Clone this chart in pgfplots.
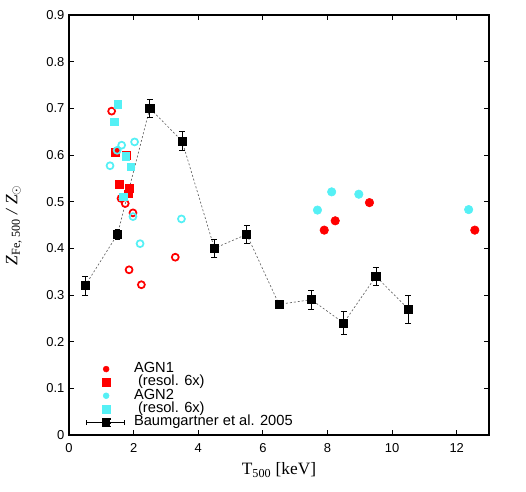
\documentclass[border=0pt]{standalone}
\usepackage{pgfplots}
\pgfplotsset{compat=1.18}
\usepackage{fontspec}
\setmainfont{Liberation Sans}
\newfontfamily\seriffont{Liberation Serif}
\definecolor{agnred}{RGB}{255,0,0}
\definecolor{agncyan}{RGB}{85,240,245}

\pgfplotsset{
  markleg/.style={legend image code/.code={\path[draw=none, fill=none] (0pt,-3pt) rectangle (35.7pt,3pt); \draw[##1] plot coordinates {(14.8pt,0pt)};}},
  circleg/.style={legend image code/.code={\path[draw=none, fill=none] (0pt,-3pt) rectangle (35.7pt,3pt); \draw[##1, mark size=2.2pt] plot coordinates {(14.8pt,0pt)};}},
  baumleg/.style={legend image code/.code={\path[draw=none, fill=none] (0pt,-3pt) rectangle (35.7pt,3pt);
    \draw[black, solid, line width=0.6pt] (0pt,0pt) -- (28.7pt,0pt) (0pt,-2pt) -- (0pt,2pt) (28.7pt,-2pt) -- (28.7pt,2pt);
    \fill[black] (11.7pt,-3.1pt) rectangle (17.9pt,3.1pt);}},
}

\pgfplotstableread{
x y ey
0.5 0.32 0.02
1.5 0.43 0.01
2.5 0.70 0.02
3.5 0.63 0.02
4.5 0.40 0.02
5.5 0.43 0.02
6.5 0.28 0.005
7.5 0.29 0.02
8.5 0.24 0.025
9.5 0.34 0.02
10.5 0.27 0.03
}\baumtable

\begin{document}
\begin{tikzpicture}
\begin{axis}[
  width=315pt, height=315pt, scale only axis,
  xmin=0, xmax=13, ymin=0, ymax=0.9,
  xtick={0,2,4,6,8,10,12},
  ytick={0,0.1,0.2,0.3,0.4,0.5,0.6,0.7,0.8,0.9},
  tick align=inside, major tick length=4pt,
  axis line style={line width=0.8pt},
  every tick/.style={black, line width=0.6pt},
  tick label style={font=\fontsize{9.7}{11}\selectfont},
  /pgf/number format/assume math mode=true,
  yticklabel style={/pgf/number format/fixed, /pgf/number format/precision=1},
  xticklabel style={yshift=-3pt},
  xlabel={\seriffont T\textsubscript{500} [keV]},
  ylabel={\seriffont\itshape Z\textsubscript{\upshape Fe, 500} / Z\textsubscript{$\odot$}},
  label style={font=\fontsize{13}{15}\selectfont},
  xlabel style={at={(axis description cs:0.5,-0.0946)}, anchor=base},
  ylabel style={at={(axis description cs:-0.123,0.5)}, anchor=base},
  legend cell align=left,
  legend style={at={(axis description cs:0.0405,0.0141)}, anchor=south west,
    draw=none, fill=none, inner sep=0pt, outer sep=0pt,
    column sep=0pt, row sep=0pt,
    font=\fontsize{11}{12}\selectfont,
    nodes={inner sep=0pt, text height=7.5pt, text depth=2.5pt}},
]
% red open circles (no legend)
\addplot[only marks, mark=o, mark size=2.6pt, draw=agnred, line width=1.3pt, forget plot]
coordinates {(1.32,0.694) (1.61,0.507) (1.74,0.496) (1.98,0.476) (3.29,0.381) (1.86,0.354) (2.24,0.322)};
% AGN1 filled circles
\addplot[only marks, mark=*, mark size=3.2pt, draw=agnred, fill=agnred, circleg]
coordinates {(9.30,0.498) (8.24,0.459) (7.90,0.439) (12.56,0.439)};
\addlegendentry{AGN1}
% AGN1 resol 6x squares
\addplot[only marks, mark=square*, mark size=2.9pt, draw=agnred, fill=agnred, markleg]
coordinates {(1.44,0.606) (1.78,0.600) (1.55,0.537) (1.86,0.528) (1.83,0.517)};
\addlegendentry{~(resol. 6x)}
% cyan open circles (no legend)
\addplot[only marks, mark=o, mark size=2.6pt, draw=agncyan, line width=1.3pt, forget plot]
coordinates {(1.49,0.610) (1.63,0.621) (2.03,0.628) (1.27,0.577) (1.98,0.468) (3.48,0.463) (2.20,0.410)};
% AGN2 filled circles
\addplot[only marks, mark=*, mark size=3.2pt, draw=agncyan, fill=agncyan, circleg]
coordinates {(8.13,0.521) (8.97,0.516) (7.69,0.482) (12.37,0.483)};
\addlegendentry{AGN2}
% AGN2 resol 6x squares
\addplot[only marks, mark=square*, mark size=2.8pt, draw=agncyan, fill=agncyan, markleg]
coordinates {(1.505,0.709) (1.40,0.671) (1.75,0.597) (1.92,0.575) (1.68,0.511)};
\addlegendentry{~(resol. 6x)}
% Baumgartner et al. 2005
\addplot[black!60, line width=0.5pt, dash pattern=on 1.5pt off 1.5pt,
  mark=square*, mark size=3.1pt, mark options={solid, draw=black, fill=black},
  error bars/.cd, y dir=both, y explicit,
  error bar style={black, solid, line width=0.6pt},
  error mark options={rotate=90, mark size=2.2pt, black, solid, line width=0.6pt},
  /pgfplots/.cd, baumleg]
table[x=x, y=y, y error=ey] {\baumtable};
\addlegendentry{Baumgartner et al. 2005}
\end{axis}
\pgfresetboundingbox
\path ([shift={(-51.75pt,-42pt)}]current axis.south west) rectangle ([shift={(27.75pt,11.25pt)}]current axis.north east);
\end{tikzpicture}
\end{document}
